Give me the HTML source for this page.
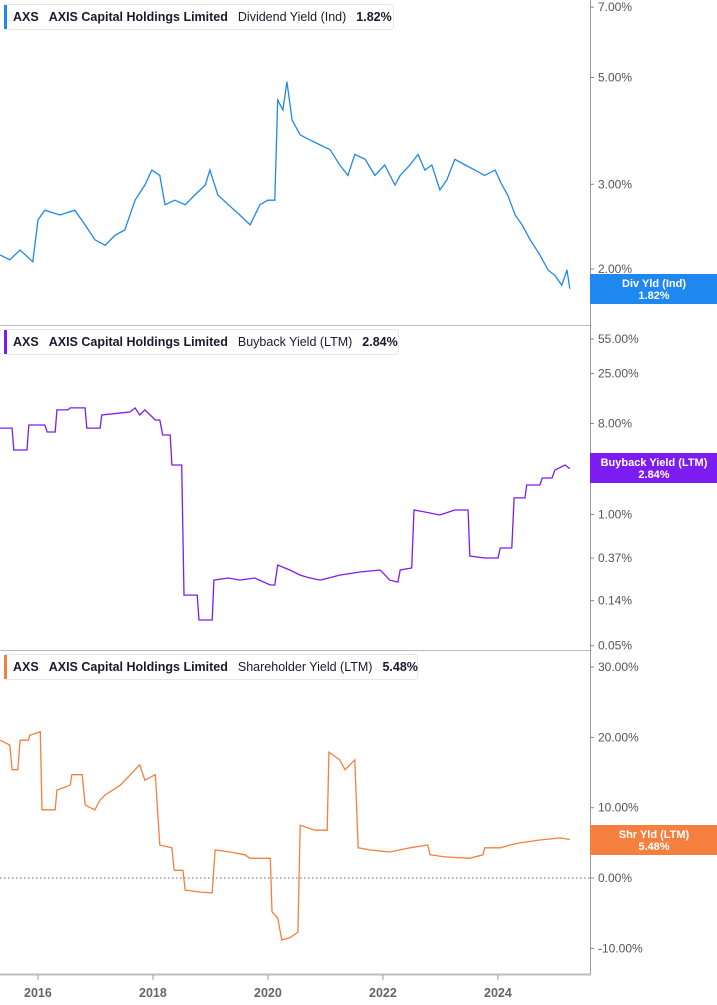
<!DOCTYPE html>
<html><head><meta charset="utf-8">
<style>
body{margin:0;background:#fff;font-family:"Liberation Sans",sans-serif;}
svg{display:block}
.leg{font-size:12.5px;fill:#1a1a2e}
.tk{font-size:12px;fill:#555}
</style></head>
<body>
<svg id="c" width="717" height="1005" viewBox="0 0 717 1005"></svg>
<script>
const divDates=[2015.34,2015.51,2015.69,2015.91,2016.00,2016.12,2016.38,2016.64,2016.82,2016.99,2017.17,2017.34,2017.51,2017.69,2017.86,2017.98,2018.12,2018.21,2018.38,2018.56,2018.73,2018.91,2018.99,2019.13,2019.31,2019.51,2019.69,2019.86,2020.00,2020.12,2020.17,2020.26,2020.33,2020.42,2020.56,2020.73,2020.91,2021.08,2021.25,2021.39,2021.51,2021.69,2021.86,2022.03,2022.21,2022.30,2022.47,2022.61,2022.73,2022.85,2022.99,2023.11,2023.25,2023.43,2023.60,2023.77,2023.95,2024.07,2024.17,2024.30,2024.42,2024.56,2024.73,2024.87,2024.99,2025.11,2025.20,2025.25];
const divValues=[2.14,2.09,2.19,2.07,2.53,2.65,2.59,2.65,2.47,2.30,2.24,2.35,2.41,2.78,2.99,3.21,3.13,2.72,2.78,2.72,2.85,2.99,3.21,2.85,2.72,2.59,2.47,2.72,2.78,2.78,4.49,4.28,4.90,4.08,3.80,3.71,3.62,3.54,3.29,3.13,3.46,3.38,3.13,3.29,2.99,3.13,3.29,3.46,3.21,3.29,2.92,3.06,3.38,3.29,3.21,3.13,3.21,2.99,2.85,2.59,2.47,2.30,2.14,1.99,1.94,1.85,1.99,1.82];
const bbDates=[2015.34,2015.55,2015.58,2015.81,2015.84,2016.12,2016.16,2016.30,2016.33,2016.52,2016.56,2016.82,2016.85,2017.08,2017.11,2017.60,2017.69,2017.77,2017.86,2018.04,2018.12,2018.17,2018.30,2018.33,2018.50,2018.54,2018.77,2018.80,2019.03,2019.06,2019.31,2019.51,2019.77,2020.04,2020.12,2020.17,2020.38,2020.56,2020.73,2020.91,2021.25,2021.60,2021.95,2022.12,2022.26,2022.30,2022.50,2022.54,2022.73,2022.99,2023.25,2023.48,2023.51,2023.77,2024.00,2024.04,2024.24,2024.28,2024.47,2024.50,2024.73,2024.77,2024.94,2024.99,2025.17,2025.25];
const bbValues=[7.2,7.2,4.36,4.36,7.72,7.72,6.58,6.58,10.9,10.9,11.4,11.4,7.2,7.2,9.7,10.4,11.4,9.7,10.9,8.65,8.65,6.14,6.14,3.10,3.10,0.159,0.159,0.090,0.090,0.224,0.235,0.224,0.235,0.200,0.200,0.316,0.282,0.251,0.235,0.224,0.251,0.269,0.282,0.224,0.214,0.282,0.295,1.11,1.06,0.99,1.11,1.11,0.388,0.371,0.371,0.466,0.466,1.46,1.46,1.96,1.96,2.30,2.30,2.76,3.1,2.84];
const shDates=[2015.34,2015.51,2015.55,2015.65,2015.69,2015.83,2015.86,2016.04,2016.07,2016.30,2016.33,2016.56,2016.59,2016.77,2016.82,2016.91,2016.99,2017.08,2017.17,2017.43,2017.69,2017.77,2017.86,2018.04,2018.12,2018.33,2018.37,2018.52,2018.56,2018.82,2019.03,2019.08,2019.34,2019.60,2019.69,2020.04,2020.07,2020.17,2020.24,2020.38,2020.52,2020.56,2020.82,2021.03,2021.06,2021.25,2021.34,2021.51,2021.57,2021.77,2022.12,2022.47,2022.78,2022.82,2023.08,2023.51,2023.74,2023.77,2024.04,2024.21,2024.38,2024.73,2025.08,2025.25];
const shValues=[19.6,18.9,15.4,15.4,19.6,19.6,20.3,20.8,9.7,9.7,12.5,13.2,14.7,14.7,10.4,10.0,9.7,11.1,11.8,13.2,15.4,16.1,13.9,14.7,4.7,4.3,1.1,1.1,-1.7,-2.0,-2.1,4.0,3.7,3.3,2.8,2.8,-4.8,-5.7,-8.8,-8.5,-7.7,7.5,6.8,6.8,17.9,16.8,15.4,16.8,4.3,4.0,3.7,4.3,4.7,3.3,3.0,2.8,3.3,4.3,4.3,4.7,5.0,5.4,5.7,5.48];
const divTicks=[7,5,3,2];
const bbTicks=[55,25,8,1,0.37,0.14,0.05];
const shTicks=[30,20,10,0,-10];
const yearTicks=[2016,2018,2020,2022,2024];

const NS="http://www.w3.org/2000/svg";
const svg=document.getElementById('c');
function mk(t,a,p){const e=document.createElementNS(NS,t);for(const k in a)e.setAttribute(k,a[k]);(p||svg).appendChild(e);return e;}
const X=d=>(d-2015.34)*57.5;
const yDiv=v=>269-209*Math.log(v/2);
const yBB=v=>339-43.8*Math.log(v/55);
const yShr=v=>878-7.03*v;

function fmt(v){return v.toFixed(2)+'%';}
function panel(name,dates,vals,Y,ticks,color,title,metric,valTxt,boxW,top,lblTop,lbl1,lbl2){
  const g=mk('g',{});
  
  
  ticks.forEach(t=>{
    const y=Y(t);
    const tk=mk('line',{x1:590,x2:594,y1:y,y2:y,stroke:'#888'},g);
    
    
    const tx=mk('text',{x:598,y:y+4,class:'tk'},g);
    tx.textContent=fmt(t);
    
    
  });
  let d='';const n=Math.min(dates.length,vals.length);
  for(let i=0;i<n;i++)d+=(i?'L':'M')+X(dates[i]).toFixed(1)+','+Y(vals[i]).toFixed(1);
  const p=mk('path',{d:d,fill:'none',stroke:color,'stroke-width':1.3},g);
  
  
  const lg=mk('g',{},g);
  
  
  mk('rect',{x:4.5,y:top+4.5,width:boxW,height:25,rx:3,fill:'#fff',stroke:'#e6e6e6'},lg);
  mk('rect',{x:4,y:top+5,width:3,height:24,fill:color},lg);
  const t=mk('text',{x:13,y:top+21,class:'leg'},lg);
  t.innerHTML='<tspan font-weight="bold">AXS</tspan><tspan dx="10" font-weight="bold">AXIS Capital Holdings Limited</tspan><tspan dx="10">'+metric+'</tspan><tspan dx="10" font-weight="bold">'+valTxt+'</tspan>';
  const lb=mk('g',{},g);
  
  
  mk('rect',{x:590,y:lblTop,width:127,height:30,fill:color},lb);
  const a=mk('text',{x:654,y:lblTop+13,'text-anchor':'middle','font-size':11,'font-weight':'bold',fill:'#fff'},lb);a.textContent=lbl1;
  const b=mk('text',{x:654,y:lblTop+25,'text-anchor':'middle','font-size':11,'font-weight':'bold',fill:'#fff'},lb);b.textContent=lbl2;
}
// frame
mk('line',{x1:590.5,x2:590.5,y1:0,y2:974,stroke:'#999'});
[325,650].forEach(y=>mk('line',{x1:0,x2:590,y1:y+0.5,y2:y+0.5,stroke:'#bbb'}));
mk('line',{x1:0,x2:591,y1:974.5,y2:974.5,stroke:'#bbb','stroke-width':2});
mk('line',{x1:0,x2:590,y1:878,y2:878,stroke:'#666','stroke-dasharray':'1.5,2.5'});

panel('dividend-yield',divDates,divValues,yDiv,divTicks,'#1e88f0','AXS','Dividend Yield (Ind)','1.82%',389,0,274,'Div Yld (Ind)','1.82%');
panel('buyback-yield',bbDates,bbValues,yBB,bbTicks,'#7d1cf0','AXS','Buyback Yield (LTM)','2.84%',394,325,453,'Buyback Yield (LTM)','2.84%');
panel('shareholder-yield',shDates,shValues,yShr,shTicks,'#f57f3e','AXS','Shareholder Yield (LTM)','5.48%',413,650,825,'Shr Yld (LTM)','5.48%');

yearTicks.forEach(yr=>{
  const x=X(yr);
  const l=mk('line',{x1:x,x2:x,y1:975,y2:980,stroke:'#999'});
  
  
  const t=mk('text',{x:x,y:997,'text-anchor':'middle','font-size':12.5,'font-weight':'bold',fill:'#666'});
  t.textContent=yr;
  
  
});
</script>
</body></html>
